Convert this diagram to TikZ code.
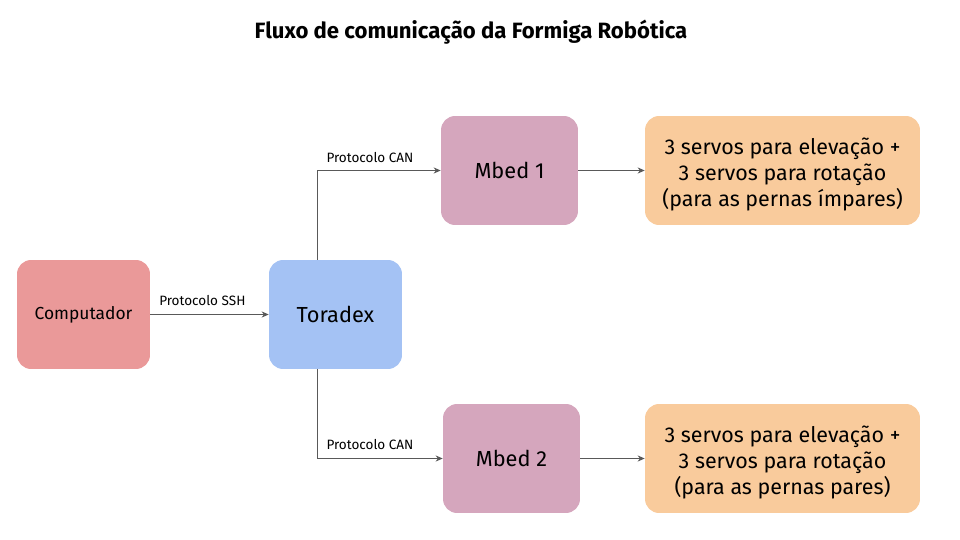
\documentclass[tikz,border=0pt]{standalone}
\usepackage{fontspec}
\setmainfont{Fira Sans}
\usetikzlibrary{calc,positioning,arrows.meta}
\usepackage{xcolor}
\definecolor{compred}{HTML}{EA9999}
\definecolor{torablue}{HTML}{A4C2F4}
\definecolor{mbedpink}{HTML}{D5A6BD}
\definecolor{servoorange}{HTML}{F9CB9C}
\definecolor{linegray}{HTML}{595959}
\tikzset{
  caixa/.style={rounded corners=8pt, inner sep=0pt, align=center, text=black},
  servotexto/.style={align=center, yshift=-0.07cm, font=\fontsize{12.2}{14.8}\selectfont},
  seta/.style={draw=linegray, line width=0.55pt, -{Stealth[length=4pt,width=3.5pt]}},
  rotulo/.style={font=\fontsize{7.7}{9}\selectfont, inner sep=1pt}
}

\begin{document}
\begin{tikzpicture}[x=0.02cm, y=-0.02cm]

            % Frame of the whole picture
            \useasboundingbox (0,0) rectangle (960,540);

            % Title
            \node (titulo) at (471,32) {\fontsize{12.6}{14}\selectfont\bfseries Fluxo de comunica\c{c}\~ao da Formiga Rob\'otica};

            % Main boxes
            \node[caixa, fill=compred, minimum width=2.66cm, minimum height=2.18cm,
                  font=\fontsize{9.9}{12}\selectfont] (comp) at (83.5,314.5) {Computador};
            \node[caixa, fill=torablue, minimum width=2.66cm, minimum height=2.18cm,
                  font=\fontsize{12.4}{14}\selectfont] (tora) at (335.5,314.5) {Toradex};
            \node[caixa, fill=mbedpink, minimum width=2.74cm, minimum height=2.18cm,
                  font=\fontsize{12.4}{14}\selectfont] (mbed1) at (509.5,170.5) {Mbed 1};
            \node[caixa, fill=mbedpink, minimum width=2.74cm, minimum height=2.18cm,
                  font=\fontsize{12.4}{14}\selectfont] (mbed2) at (511.5,458.5) {Mbed 2};

            % Servo boxes
            \node[caixa, fill=servoorange, minimum width=5.5cm, minimum height=2.18cm,
                  label={[servotexto]center:{3 servos para eleva\c{c}\~ao +\\3 servos para rota\c{c}\~ao\\(para as pernas \'impares)}}]
                  (servo1) at (782.5,170.5) {};
            \node[caixa, fill=servoorange, minimum width=5.5cm, minimum height=2.18cm,
                  label={[servotexto]center:{3 servos para eleva\c{c}\~ao +\\3 servos para rota\c{c}\~ao\\(para as pernas pares)}}]
                  (servo2) at (782.5,458.5) {};

            % Connectors
            \draw[seta] (comp) -- node[rotulo, above=4pt, pos=0.44] (ssh) {Protocolo SSH} (tora);
            \draw[seta] (tora.north -| 317,0) |- (mbed1.west);
            \draw[seta] (tora.south -| 317,0) |- (mbed2.west);
            \draw[seta] (mbed1) -- (servo1);
            \draw[seta] (mbed2) -- (servo2);

            % Labels of CAN links
            \node[rotulo] (can1) at (370,158) {Protocolo CAN};
            \node[rotulo] (can2) at (370,445) {Protocolo CAN};
        \end{tikzpicture}
\end{document}
